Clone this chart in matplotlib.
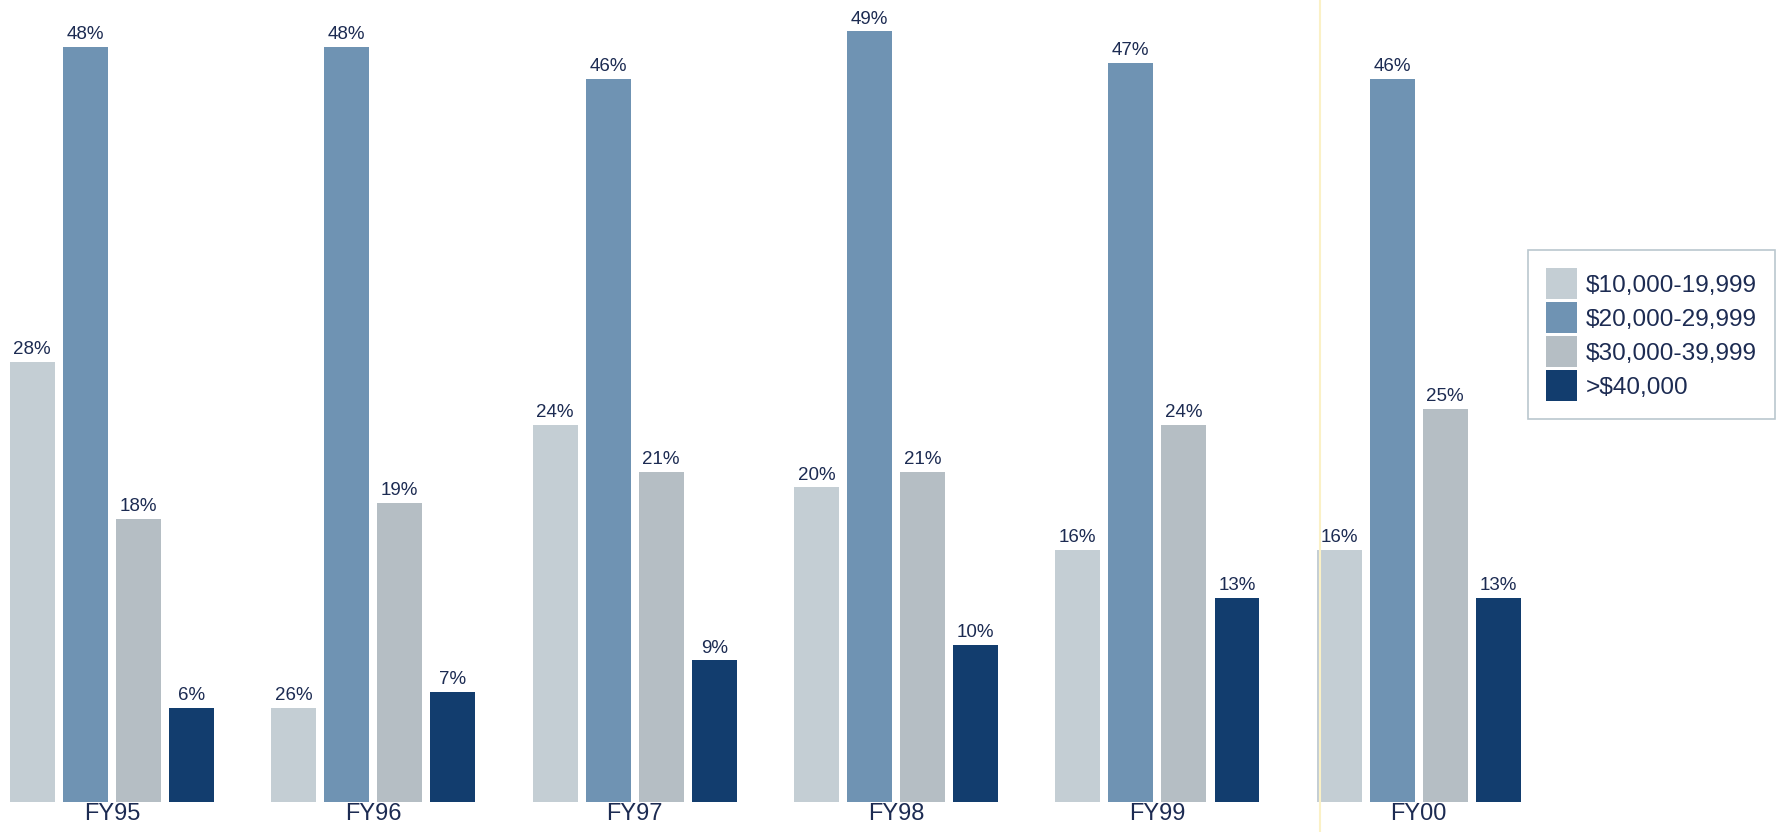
import matplotlib.pyplot as plt
import numpy as np

plt.rcParams['font.family'] = ['Liberation Sans', 'DejaVu Sans']

# Fiscal years and salary bands
years = ['FY95', 'FY96', 'FY97', 'FY98', 'FY99', 'FY00']
bands = ['$10,000-19,999', '$20,000-29,999', '$30,000-39,999', '>$40,000']

# Printed percentages
pct_10k = [28, 26, 24, 20, 16, 16]
pct_20k = [48, 48, 46, 49, 47, 46]
pct_30k = [18, 19, 21, 21, 24, 25]
pct_40k = [6, 7, 9, 10, 13, 13]

# Bar heights as drawn (the FY96 lowest band bar is drawn far shorter than its 26% label)
drawn_10k = [28, 6, 24, 20, 16, 16]

colors = ['#c4ced4', '#6f93b3', '#b5bec4', '#123d6e']
text_color = '#1c2b52'

series_h = [drawn_10k, pct_20k, pct_30k, pct_40k]
series_l = [pct_10k, pct_20k, pct_30k, pct_40k]

fig = plt.figure(figsize=(17.8, 8.32), dpi=100)
ax = fig.add_axes([0, 30 / 832, 1, 802 / 832])

x = np.arange(len(years))
step = 0.203
width = 0.172
for k in range(4):
    pos = x + (k - 1.5) * step
    bars = ax.bar(pos, series_h[k], width=width, color=colors[k], label=bands[k])
    for b, v in zip(bars, series_l[k]):
        ax.text(b.get_x() + b.get_width() / 2, b.get_height() + 0.25, f'{v}%',
                ha='center', va='bottom', fontsize=13.5, color=text_color)

ax.set_xlim(-0.428, 6.382)
ax.set_ylim(0, 51.0)
ax.set_xticks(x)
ax.set_xticklabels(years, fontsize=17, color=text_color)
ax.tick_params(axis='x', length=0, pad=1)
ax.set_yticks([])
for s in ax.spines.values():
    s.set_visible(False)

# faint fold line from the scan
fig.add_artist(plt.Line2D([1320 / 1780, 1320 / 1780], [0, 1], transform=fig.transFigure,
                          color='#fbf1c6', lw=1.5))

leg = ax.legend(loc='upper left', bbox_to_anchor=(1528 / 1780, 1 - 250 / 832),
                bbox_transform=fig.transFigure, fontsize=17.6, frameon=True,
                fancybox=False, handlelength=1.25, handleheight=1.55,
                handletextpad=0.37, labelspacing=0.14, borderpad=0.75,
                borderaxespad=0)
leg.get_frame().set_edgecolor('#a9b9c2')
leg.get_frame().set_linewidth(1.2)
for t in leg.get_texts():
    t.set_color(text_color)

fig.savefig('out.png', dpi=100)
